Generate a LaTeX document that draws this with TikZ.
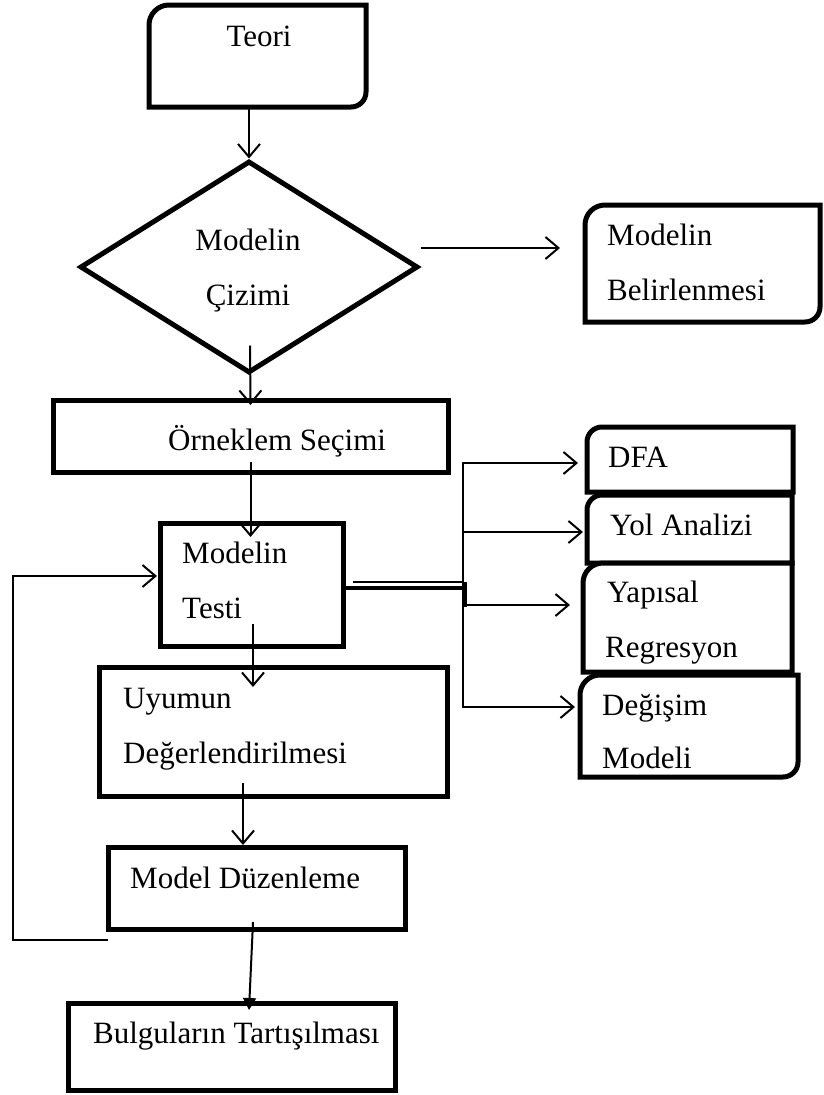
\documentclass[tikz,border=0pt]{standalone}
\usepackage{fontspec}
\setmainfont{Liberation Serif}
\usetikzlibrary{arrows.meta,shapes.geometric,calc}

% box with rounded top-left and bottom-right corners
\newcommand{\cornerbox}[3]{%
  \draw[edge, fill=white] (#1.south west) -- ($(#1.north west)+(0,#2)$)
    arc[start angle=180,end angle=270,radius=#2] -- (#1.north east)
    -- ($(#1.south east)+(0,-#3)$) arc[start angle=0,end angle=90,radius=#3] -- cycle;}
% box with only the top-left corner rounded
\newcommand{\tabbox}[2]{%
  \draw[edge, fill=white] (#1.south west) -- ($(#1.north west)+(0,#2)$)
    arc[start angle=180,end angle=270,radius=#2] -- (#1.north east)
    -- (#1.south east) -- cycle;}

\begin{document}
\begin{tikzpicture}[x=1pt,y=-1pt,
  frame/.style={rectangle, inner sep=0pt, outer sep=0pt, anchor=north west},
  plain/.style={frame, draw, line width=5pt},
  edge/.style={line width=5pt, line join=miter},
  conn/.style={line width=2pt, -{Straight Barb[length=13pt,width=22pt,line width=2pt]}},
  solid arrow/.style={line width=2pt, -{Triangle[length=12pt,width=13pt]}},
  txt/.style={anchor=base west, inner sep=0pt, font=\fontsize{31}{36}\selectfont},
  ctxt/.style={txt, anchor=base}]
\useasboundingbox (0,0) rectangle (823,1095);

% ---- shapes ----
\node[frame, minimum width=217, minimum height=102] (teori) at (149,5) {};
\cornerbox{teori}{20}{15}

\node[diamond, draw, line width=5pt, inner sep=0pt, aspect=1.6,
      minimum width=338, minimum height=212] (dia) at (249,267) {};

\node[frame, minimum width=235, minimum height=117] (belir) at (585,205) {};
\cornerbox{belir}{20}{15}

\node[plain, minimum width=395, minimum height=72] (ornek) at (53,400) {};
\node[plain, minimum width=183, minimum height=123] (test) at (160,523) {};
\node[plain, minimum width=348, minimum height=129] (uyum) at (99,667) {};
\node[plain, minimum width=297, minimum height=82] (duzen) at (108,847) {};
\node[plain, minimum width=327, minimum height=87] (bulg) at (68,1003) {};

\node[frame, minimum width=206, minimum height=65] (dfa) at (587,427) {};
\node[frame, minimum width=205, minimum height=68] (yol) at (587,495) {};
\node[frame, minimum width=209, minimum height=109] (yap) at (583,563) {};
\node[frame, minimum width=218, minimum height=102] (deg) at (580,675) {};
\tabbox{dfa}{15}
\tabbox{yol}{15}
\tabbox{yap}{20}
\cornerbox{deg}{20}{15}

% ---- connectors ----
\draw[conn] (teori.south -| dia.north) -- (dia.north);
\draw[conn] ($(dia.south)+(1,-30)$) -- ($(ornek.north)+(0,5)$);
\draw[conn] ($(ornek.south)+(0,-10)$) -- ($(test.north)+(-1,14)$);
\draw[conn] ($(test.south)+(1.5,-22)$) -- ($(test.south)+(1.5,41)$);
\draw[conn] ($(uyum.south)+(-30,-13)$) -- ($(duzen.north)+(-13.5,-2)$);
\draw[solid arrow] ($(duzen.south)+(-3.5,-7)$) -- ($(bulg.north)+(17.5,7)$);
\draw[conn] ($(dia.east)+(0,-19)$) -- ($(belir.west)+(-25,-15.5)$);

% feedback loop from Model Duzenleme back to Modelin Testi
\draw[conn] ($(duzen.south west)+(0,11)$) -- ++(-95,0) |- ($(test.west)+(-3,-8.5)$);

% branch from Modelin Testi to the four methods
\coordinate (split) at (463,588);
\draw[line width=2pt] ($(test.east)+(10,-2.5)$) -- ($(split)+(0,-6)$);
\draw[line width=3.5pt] ($(test.east)+(0,3.5)$) -- ($(split)+(3,0)$);
\draw[line width=4pt] ($(split)+(2,-6)$) -- ++(0,25);
\draw[conn] (split) |- ($(dfa.west)+(-9,3.5)$);
\draw[conn] (split) |- ($(yol.west)+(-4,3)$);
\draw[conn] (split) |- ($(yap.west)+(-13,-12.5)$);
\draw[conn] (split) |- ($(deg.west)+(-5,-19)$);

% ---- texts ----
\node[ctxt] (l-teori) at (259,46) {Teori};
\node[ctxt] (l-dia1) at (248,250) {Modelin};
\node[ctxt] (l-dia2) at (248,305) {Çizimi};
\node[txt] (l-belir1) at (607,245) {Modelin};
\node[txt] (l-belir2) at (607,300) {Belirlenmesi};
\node[txt] (l-ornek) at (168,450) {Örneklem Seçimi};
\node[txt] (l-test1) at (182,563) {Modelin};
\node[txt] (l-test2) at (182,618) {Testi};
\node[txt] (l-uyum1) at (123,708) {Uyumun};
\node[txt] (l-uyum2) at (123,763) {Değerlendirilmesi};
\node[txt] (l-duzen) at (130,888) {Model Düzenleme};
\node[txt] (l-bulg) at (93,1043) {Bulguların Tartışılması};
\node[txt] (l-dfa) at (608,467) {DFA};
\node[txt] (l-yol) at (610,535) {Yol Analizi};
\node[txt] (l-yap1) at (607,602) {Yapısal};
\node[txt] (l-yap2) at (605,657) {Regresyon};
\node[txt] (l-deg1) at (602,715) {Değişim};
\node[txt] (l-deg2) at (602,768) {Modeli};
\end{tikzpicture}
\end{document}
